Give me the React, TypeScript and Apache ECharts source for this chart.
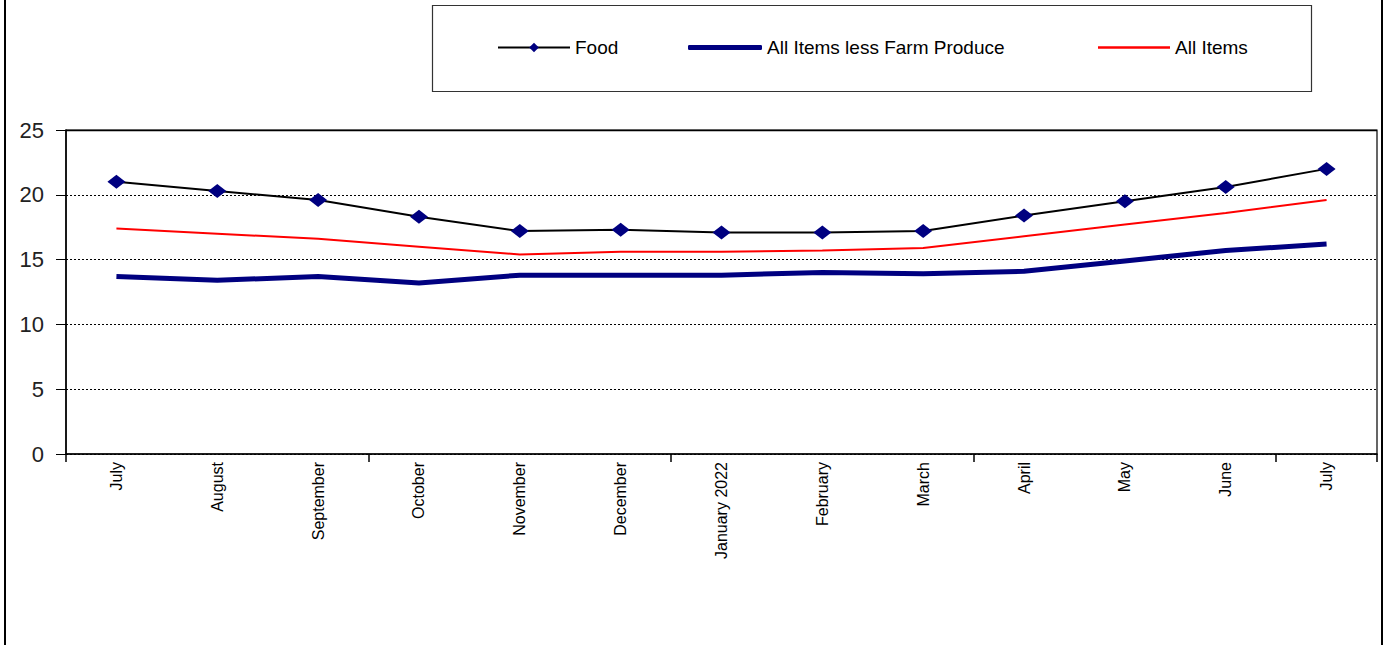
import React, { useEffect, useRef } from "react";
import * as echarts from "echarts";

const categories = [
  "July", "August", "September", "October", "November", "December",
  "January 2022", "February", "March", "April", "May", "June", "July",
];
const foodValues = [21.0, 20.3, 19.6, 18.3, 17.2, 17.3, 17.1, 17.1, 17.2, 18.4, 19.5, 20.6, 22.0];
const lessFarmValues = [13.7, 13.4, 13.7, 13.2, 13.8, 13.8, 13.8, 14.0, 13.9, 14.1, 14.9, 15.7, 16.2];
const allItemsValues = [17.4, 17.0, 16.6, 16.0, 15.4, 15.6, 15.6, 15.7, 15.9, 16.8, 17.7, 18.6, 19.6];
const seriesNames = ["Food", "All Items less Farm Produce", "All Items"];
const yTicks = { min: 0, max: 25, interval: 5 };

const FONT = "'Liberation Sans', Arial, sans-serif";

export default function App() {
  const ref = useRef<HTMLDivElement>(null);
  useEffect(() => {
    if (!ref.current) return;
    const chart = echarts.init(ref.current, undefined, { renderer: "svg" });
    const legendCommon = {
      padding: 0,
      top: 38,
      selectedMode: false,
      textStyle: { fontFamily: FONT, fontSize: 19, color: "#000" },
    };
    chart.setOption({
      animation: false,
      backgroundColor: "#fff",
      textStyle: { fontFamily: FONT },
      graphic: [
        { type: "line", shape: { x1: 5, y1: 0, x2: 5, y2: 645 }, style: { stroke: "#000", lineWidth: 2 } },
        { type: "line", shape: { x1: 1382, y1: 0, x2: 1382, y2: 645 }, style: { stroke: "#000", lineWidth: 2 } },
        { type: "rect", shape: { x: 432.5, y: 5.5, width: 879, height: 86 }, style: { fill: "none", stroke: "#333", lineWidth: 1.2 } },
        { type: "line", z: 100, shape: { x1: 66, y1: 130.5, x2: 1377, y2: 130.5 }, style: { stroke: "#000", lineWidth: 1.5 } },
      ],
      legend: [
        { ...legendCommon, left: 497, itemWidth: 72, itemHeight: 12, data: [seriesNames[0]] },
        { ...legendCommon, left: 688, itemWidth: 74, itemHeight: 5, data: [{ name: seriesNames[1], icon: "roundRect" }], itemStyle: { color: "#000080" } },
        { ...legendCommon, left: 1098, itemWidth: 72, itemHeight: 2.5, data: [{ name: seriesNames[2], icon: "rect" }], itemStyle: { color: "#ff0000" } },
      ],
      grid: { left: 66, right: 11, top: 130, bottom: 191, show: true, borderColor: "#000", borderWidth: 1.2, containLabel: false },
      xAxis: {
        type: "category",
        data: categories,
        boundaryGap: true,
        axisLine: { lineStyle: { color: "#000", width: 1.5 } },
        axisTick: { show: true, interval: 2, length: 8, lineStyle: { color: "#000", width: 1.5 } },
        axisLabel: { interval: 0, rotate: 90, fontSize: 16, color: "#000", fontFamily: FONT, margin: 8 },
      },
      yAxis: {
        type: "value",
        min: yTicks.min,
        max: yTicks.max,
        interval: yTicks.interval,
        axisLine: { show: true, lineStyle: { color: "#000", width: 1.5 } },
        axisTick: { show: true, length: 10, lineStyle: { color: "#000", width: 1 } },
        axisLabel: { fontSize: 22, color: "#222", fontFamily: FONT, margin: 22 },
        splitLine: { show: true, lineStyle: { color: "#000", width: 1, type: [2, 2] } },
      },
      series: [
        {
          name: seriesNames[0],
          type: "line",
          data: foodValues,
          symbol: "diamond",
          symbolSize: [18, 14],
          lineStyle: { color: "#000", width: 2 },
          itemStyle: { color: "#000080" },
        },
        {
          name: seriesNames[1],
          type: "line",
          data: lessFarmValues,
          symbol: "none",
          lineStyle: { color: "#000080", width: 5 },
          itemStyle: { color: "#000080" },
        },
        {
          name: seriesNames[2],
          type: "line",
          data: allItemsValues,
          symbol: "none",
          lineStyle: { color: "#ff0000", width: 2 },
          itemStyle: { color: "#ff0000" },
        },
      ],
    });
    return () => chart.dispose();
  }, []);
  return (
    <div
      ref={ref}
      style={{ position: "fixed", left: 0, top: 0, width: 1388, height: 645, background: "#fff" }}
    />
  );
}
